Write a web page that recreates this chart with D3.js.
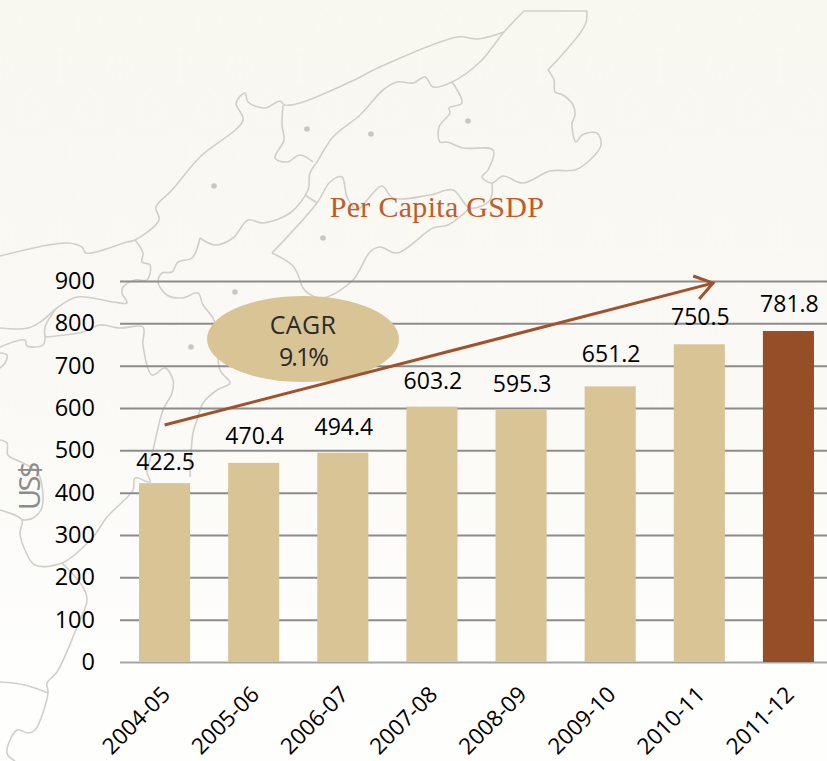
<!DOCTYPE html>
<html><head><meta charset="utf-8">
<script src="https://cdn.jsdelivr.net/npm/d3@7"></script>
<style>html,body{margin:0;padding:0;background:#fff}svg{display:block}</style>
</head><body><div id="chart"></div>
<script>
const categories=["2004-05","2005-06","2006-07","2007-08","2008-09","2009-10","2010-11","2011-12"];
const values=[422.5,470.4,494.4,603.2,595.3,651.2,750.5,781.8];
const yTicks=[0,100,200,300,400,500,600,700,800,900];
const titleText="Per Capita GSDP";
const yTitle="US$";
const cagrLines=["CAGR","9.1%"];
const trendStartValue=560, trendEndValue=895;

// decorative background map outlines
const mapLines=[
 [[0,256],[67,243],[82,247],[86,253],[127,242],[135,240],[159,220],[156,207],[172,190],[200,157],[243,120],[236,103],[245,93],[248,102],[265,108],[280,101],[285,105],[300,103],[350,82],[380,67],[458,37],[478,39],[504,32]],
 [[524,11],[504,32],[480,62],[452,82],[433,87],[425,77],[413,83],[397,82],[383,90],[360,115],[333,137],[317,162],[310,173],[308,190],[290,213],[263,223],[248,220],[233,238],[215,245],[200,238]],
 [[200,238],[192,258],[178,262],[172,272],[162,273],[158,282],[167,295],[182,298],[198,293],[203,305],[213,318],[218,335]],
 [[524,11],[587,11]],
 [[587,11],[585,25],[548,70]],
 [[548,70],[554,80],[555,92],[563,95],[573,105],[575,115],[572,124],[576,142],[582,135],[597,133],[601,145],[590,160],[575,170],[550,171],[523,183],[503,176],[492,183],[482,177],[488,170],[493,150],[463,148],[447,142],[440,142],[439,127],[450,113],[449,108],[462,103],[452,82]],
 [[492,183],[490,200],[470,208],[453,190],[430,195],[393,198],[382,186],[367,200],[357,210],[347,197],[342,177],[330,182],[317,203],[272,253]],
 [[272,253],[293,266],[300,280],[303,288],[315,297],[327,297],[353,280],[370,252],[380,247],[397,253],[433,228],[448,225],[470,208]],
 [[283,105],[282,125],[284,140],[275,158],[287,162],[300,155],[313,162]],
 [[305,195],[317,203]],
 [[135,240],[143,253],[142,262],[150,265],[147,280],[135,280],[123,287],[122,293],[127,303],[113,302],[77,297],[57,308],[43,320],[28,328],[0,328]],
 [[45,337],[83,332],[100,325],[120,328],[143,327],[143,345],[152,375],[165,368],[173,380],[172,393],[163,410],[153,450],[147,472],[150,482],[135,478],[133,490],[107,517],[93,537],[62,563],[35,565],[25,550],[20,533],[22,520],[0,510]],
 [[45,337],[45,327],[55,310]],
 [[45,337],[43,345],[27,346],[25,340],[0,347]],
 [[0,353],[7,355],[5,363],[0,368]],
 [[0,440],[7,443],[8,455],[23,463],[38,473],[42,507],[33,518],[22,520]],
 [[62,563],[83,587],[87,600],[77,627],[57,672],[47,683],[48,693],[35,730],[28,733],[17,730],[7,753],[15,761]],
 [[0,682],[25,685],[48,693]],
 [[218,335],[220,370],[230,383],[217,390],[203,403],[197,420],[193,433],[190,477]]
];
const mapDots=[[307,129],[371,134],[468,121],[214,186],[323,238],[235,292],[191,347]];

const W=827,H=761;
const svg=d3.select("#chart").append("svg").attr("width",W).attr("height",H);
const defs=svg.append("defs");
const g=defs.append("linearGradient").attr("id","bg").attr("x1",0).attr("x2",0).attr("y1",0).attr("y2",1);
g.append("stop").attr("offset",0).attr("stop-color","#f8f7f0");
g.append("stop").attr("offset",0.5).attr("stop-color","#faf9f5");
g.append("stop").attr("offset",0.9).attr("stop-color","#fefefd");
svg.append("rect").attr("width",W).attr("height",H).attr("fill","url(#bg)");

// very faint damask-like wallpaper texture
const pat=defs.append("pattern").attr("id","damask").attr("width",60).attr("height",84).attr("patternUnits","userSpaceOnUse");
pat.append("path").attr("d","M30 4C42 18 50 30 30 42C10 30 18 18 30 4ZM0 46C12 60 20 72 0 84ZM60 46C48 60 40 72 60 84Z")
  .attr("fill","none").attr("stroke","#ffffff").attr("stroke-width",2);
svg.append("rect").attr("width",W).attr("height",H).attr("fill","url(#damask)").attr("opacity",0.1);

const mapG=svg.append("g");
const lineGen=d3.line().curve(d3.curveCatmullRom.alpha(0.5));
mapG.selectAll("path").data(mapLines).join("path").attr("d",lineGen)
  .attr("fill","none").attr("stroke","#d0cfc9").attr("stroke-width",1.6);
mapG.selectAll("circle").data(mapDots).join("circle")
  .attr("cx",d=>d[0]).attr("cy",d=>d[1]).attr("r",2.8).attr("fill","#c8c7c2");

const x=d3.scaleBand().domain(categories).range([120,833]).paddingInner(0.427).paddingOuter(0.2135);
const y=d3.scaleLinear().domain([0,900]).range([662,281]);
const FONT='"Open Sans",sans-serif';

// y axis with gridlines
const ya=svg.append("g").attr("transform","translate(120,0)")
  .call(d3.axisLeft(y).tickValues(yTicks).tickSize(-707).tickPadding(0).tickFormat(d3.format("d")));
ya.select(".domain").remove();
ya.selectAll("line").attr("stroke",d=>d===0?"#a5a5a5":"#8c8c8c").attr("stroke-width",2);
ya.selectAll("text").attr("x",-25).attr("font-family",FONT).attr("font-size",23.5).attr("fill","#000");

// x axis
const xa=svg.append("g").attr("transform","translate(0,662)")
  .call(d3.axisBottom(x).tickSize(0));
xa.select(".domain").remove();
xa.selectAll("text").attr("font-family",FONT).attr("font-size",22.5).attr("fill","#000")
  .attr("text-anchor","end").attr("dy",0)
  .attr("transform","translate(7,34) rotate(-45)")
  .attr("y",0).attr("x",0);

// bars
svg.append("g").selectAll("rect").data(values).join("rect")
  .attr("x",(d,i)=>x(categories[i])).attr("width",x.bandwidth())
  .attr("y",d=>y(d)).attr("height",d=>y(0)-y(d))
  .attr("fill",(d,i)=>i===values.length-1?"#964e27":"#d9c496");

// value labels
const labelGaps=[13,19,18,18,18,24,19,19];
svg.append("g").selectAll("text").data(values).join("text")
  .attr("x",(d,i)=>x(categories[i])+x.bandwidth()/2+1)
  .attr("y",(d,i)=>y(d)-labelGaps[i]).attr("text-anchor","middle")
  .attr("font-family",FONT).attr("font-size",23).attr("fill","#000")
  .text(d=>d3.format(".1f")(d));

// title
svg.append("text").attr("x",437).attr("y",217).attr("text-anchor","middle")
  .attr("font-family",'"Liberation Serif",serif').attr("font-size",30).attr("letter-spacing",0.3).attr("fill","#c05c2a").text(titleText);

// y title
svg.append("text").attr("transform","translate(40,487) rotate(-90)").attr("text-anchor","middle")
  .attr("font-family",FONT).attr("font-size",29).attr("letter-spacing",-2.5).attr("fill","#8c8c8c").text(yTitle);

// CAGR ellipse
svg.append("ellipse").attr("cx",303).attr("cy",339).attr("rx",96).attr("ry",43).attr("fill","#d9c496");
svg.append("g").selectAll("text").data(cagrLines).join("text")
  .attr("x",303).attr("y",(d,i)=>334+i*32).attr("text-anchor","middle")
  .attr("font-family",FONT).attr("font-size",25).attr("letter-spacing",(d,i)=>i?-2:0.3).attr("fill","#2b2b2b").text(d=>d);

// trend arrow
const sx=x(categories[0])+x.bandwidth()/2, ex=713, sy=y(trendStartValue), ey=y(trendEndValue);
const ang=Math.atan2(ey-sy,ex-sx);
const arrow=svg.append("g").attr("fill","none").attr("stroke","#a0522d").attr("stroke-width",3);
arrow.append("line").attr("x1",sx).attr("y1",sy).attr("x2",ex).attr("y2",ey);
const len=21, spread=0.6;
arrow.append("path").attr("d",d3.line()([
  [ex-len*Math.cos(ang-spread),ey-len*Math.sin(ang-spread)],[ex,ey],
  [ex-len*Math.cos(ang+spread),ey-len*Math.sin(ang+spread)]]));
</script></body></html>
